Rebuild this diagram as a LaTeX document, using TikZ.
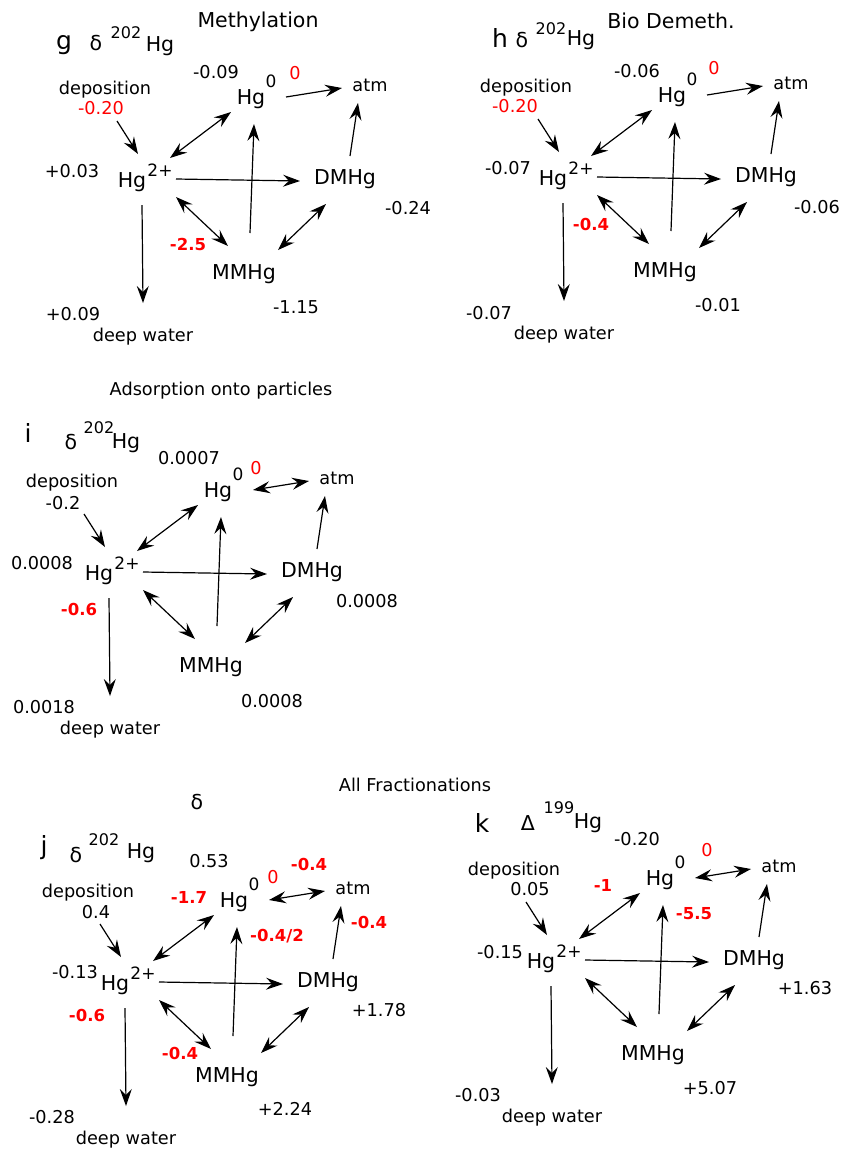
\documentclass[tikz,border=0pt]{standalone}
\usepackage{fontspec}
\setmainfont{DejaVu Sans}
\usetikzlibrary{arrows.meta}

\tikzset{
	big/.style={inner sep=0pt, font=\fontsize{20.5}{24}\selectfont},
	small/.style={inner sep=0pt, font=\fontsize{17.7}{21}\selectfont},
	sup/.style={inner sep=0pt, font=\fontsize{16}{19}\selectfont},
	charge/.style={inner sep=0pt, font=\fontsize{17}{20}\selectfont},
	tag/.style={inner sep=0pt, font=\fontsize{25}{30}\selectfont},
	frac/.style={small, text=red},
	fracb/.style={inner sep=0pt, text=red, font=\fontsize{16.5}{20}\selectfont\bfseries},
	flux/.style={draw=black, line width=1.2pt, -{Stealth[length=17pt,width=12pt,inset=6pt]}},
	flux2/.style={draw=black, line width=1.2pt, {Stealth[length=17pt,width=12pt,inset=6pt]}-{Stealth[length=17pt,width=12pt,inset=6pt]}},
}

% one box model, placed round the Hg2+ pool (#1 = panel, #2 = Hg0-atm arrow)
\newcommand{\hgcycle}[2]{%
	\node[big] (#1h2) at (0,0) {Hg};
	\node[charge] (#1h2s) at (28,-12) {2+};
	\node[big] (#1h0) at (119,-83) {Hg};
	\node[charge] (#1h0s) at (139,-101) {0};
	\node[big] (#1dm) at (213,-3) {DMHg};
	\node[big] (#1mm) at (112,92) {MMHg};
	\node[small] (#1atm) at (238,-97) {atm};
	\node[small] (#1dep) at (-27,-92) {deposition};
	\node[small] (#1deep) at (11,155) {deep water};
	\draw[flux] ([shift={(12,31)}]#1dep.center) -- ([shift={(6,-28)}]#1h2.center);
	\draw[flux2] ([shift={(38,-24)}]#1h2.center) -- ([shift={(-20,13)}]#1h0.center);
	\draw[#2] ([shift={(35,-2)}]#1h0.center) -- ([shift={(-28,3)}]#1atm.center);
	\draw[flux] ([shift={(44,-3)}]#1h2.center) -- ([shift={(-45,2)}]#1dm.center);
	\draw[flux] ([shift={(6,-41)}]#1mm.center) -- ([shift={(3,25)}]#1h0.center);
	\draw[flux] ([shift={(5,-23)}]#1dm.center) -- ([shift={(-12,18)}]#1atm.center);
	\draw[flux2] ([shift={(44,15)}]#1h2.center) -- ([shift={(-16,-28)}]#1mm.center);
	\draw[flux2] ([shift={(34,-24)}]#1mm.center) -- ([shift={(-19,25)}]#1dm.center);
	\draw[flux] ([shift={(10,23)}]#1h2.center) -- ([shift={(0,-34)}]#1deep.center);
}

\begin{document}
\begin{tikzpicture}[x=1pt, y=-1pt]
	\useasboundingbox (0,0) rectangle (851,1163);

	% g: methylation
	\begin{scope}[shift={(132,182)}]
		\hgcycle{g}{flux}
	\end{scope}
	\node[big] (gttl) at (258,22) {Methylation};
	\node[tag] (gtag) at (64,45) {g};
	\node[big] (gdelta) at (96,43) {δ};
	\node[sup] (gmass) at (126,33) {202};
	\node[big] (ghg) at (160,46) {Hg};
	\node[small] (gvh0) at (216,72) {-0.09};
	\node[frac] (gz) at (295,73) {0};
	\node[frac] (gvdep) at (101,108) {-0.20};
	\node[small] (gvh2) at (72,171) {+0.03};
	\node[small] (gvdm) at (408,208) {-0.24};
	\node[fracb] (gfmm) at (188,244) {-2.5};
	\node[small] (gvmm) at (296,307) {-1.15};
	\node[small] (gvdeep) at (73,314) {+0.09};

	% h: biotic demethylation
	\begin{scope}[shift={(553,180)}]
		\hgcycle{h}{flux}
	\end{scope}
	\node[big] (httl) at (671,21) {Bio Demeth.};
	\node[tag] (htag) at (500,38) {h};
	\node[big] (hdelta) at (522,40) {δ};
	\node[sup] (hmass) at (551,29) {202};
	\node[big] (hhg) at (581,40) {Hg};
	\node[small] (hvh0) at (637,71) {-0.06};
	\node[frac] (hz) at (714,68) {0};
	\node[frac] (hvdep) at (515,106) {-0.20};
	\node[small] (hvh2) at (508,168) {-0.07};
	\node[small] (hvdm) at (817,207) {-0.06};
	\node[fracb] (hfmm) at (591,224) {-0.4};
	\node[small] (hvmm) at (718,305) {-0.01};
	\node[small] (hvdeep) at (489,313) {-0.07};

	% i: adsorption
	\begin{scope}[shift={(99,575)}]
		\hgcycle{i}{flux2}
	\end{scope}
	\node[small] (ittl) at (221,391) {Adsorption onto particles};
	\node[tag] (itag) at (28,433) {i};
	\node[big] (idelta) at (71,442) {δ};
	\node[sup] (imass) at (99,428) {202};
	\node[big] (ihg) at (126,443) {Hg};
	\node[small] (ivh0) at (189,458) {0.0007};
	\node[frac] (iz) at (256,468) {0};
	\node[small] (ivdep) at (63,503) {-0.2};
	\node[small] (ivh2) at (42,563) {0.0008};
	\node[small] (ivdm) at (367,601) {0.0008};
	\node[fracb] (ifdeep) at (79,609) {-0.6};
	\node[small] (ivmm) at (272,701) {0.0008};
	\node[small] (ivdeep) at (44,707) {0.0018};

	% j, k: all fractionations
	\node[small] (jkttl) at (415,785) {All Fractionations};
	\node[big] (jkdelta) at (197,802) {δ};
	\begin{scope}[shift={(115,985)}]
		\hgcycle{j}{flux2}
	\end{scope}
	\node[tag] (jtag) at (44,848) {j};
	\node[big] (jdelta) at (76,855) {δ};
	\node[sup] (jmass) at (104,840) {202};
	\node[big] (jhg) at (141,853) {Hg};
	\node[small] (jvh0) at (209,861) {0.53};
	\node[frac] (jz) at (273,877) {0};
	\node[fracb] (jfatm) at (309,864) {-0.4};
	\node[small] (jvdep) at (96,912) {0.4};
	\node[fracb] (jfh0) at (189,897) {-1.7};
	\node[fracb] (jfmm) at (277,936) {-0.4/2};
	\node[fracb] (jfdm) at (369,922) {-0.4};
	\node[small] (jvh2) at (75,972) {-0.13};
	\node[small] (jvdm) at (379,1010) {+1.78};
	\node[fracb] (jfdeep) at (87,1015) {-0.6};
	\node[fracb] (jfh2) at (180,1053) {-0.4};
	\node[small] (jvmm) at (285,1109) {+2.24};
	\node[small] (jvdeep) at (52,1117) {-0.28};

	\begin{scope}[shift={(541,963)}]
		\hgcycle{k}{flux2}
	\end{scope}
	\node[tag] (ktag) at (482,823) {k};
	\node[big] (kdelta) at (528,823) {Δ};
	\node[sup] (kmass) at (559,808) {199};
	\node[big] (khg) at (588,823) {Hg};
	\node[small] (kvh0) at (637,839) {-0.20};
	\node[frac] (kz) at (707,850) {0};
	\node[small] (kvdep) at (530,889) {0.05};
	\node[fracb] (kfh0) at (603,885) {-1};
	\node[fracb] (kfmm) at (694,914) {-5.5};
	\node[small] (kvh2) at (500,952) {-0.15};
	\node[small] (kvdm) at (805,988) {+1.63};
	\node[small] (kvmm) at (710,1088) {+5.07};
	\node[small] (kvdeep) at (478,1095) {-0.03};
\end{tikzpicture}
\end{document}
